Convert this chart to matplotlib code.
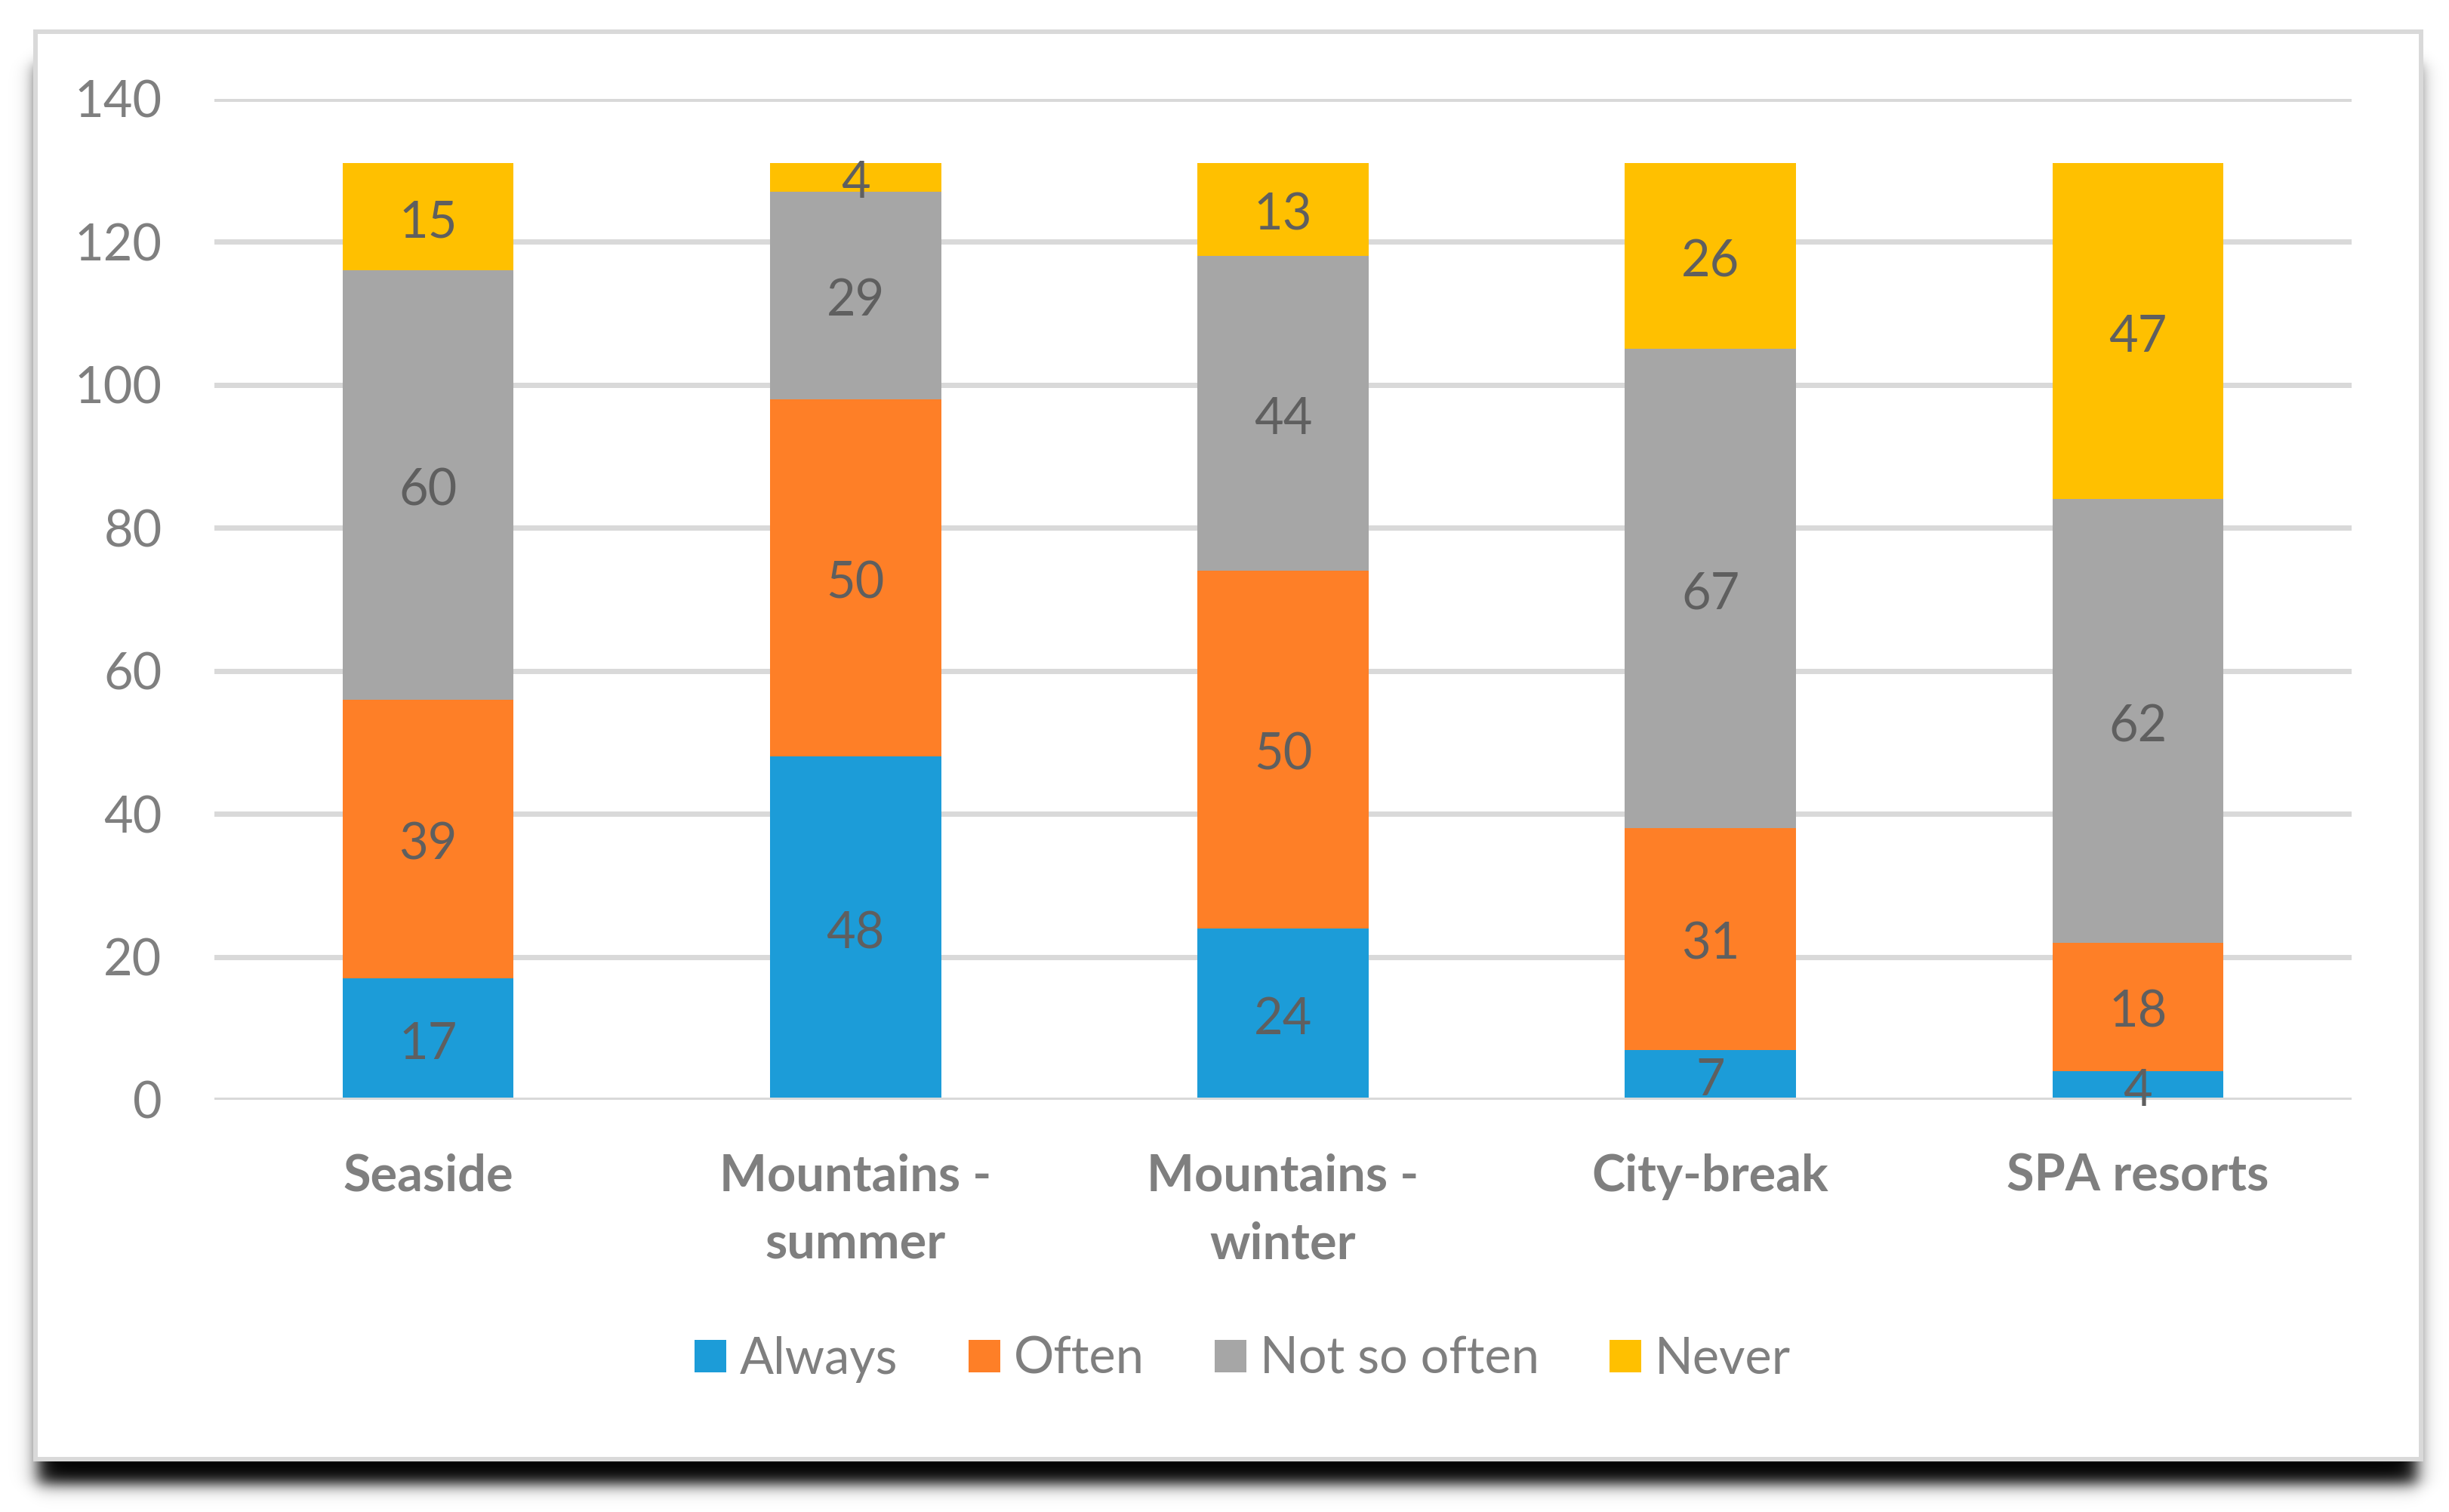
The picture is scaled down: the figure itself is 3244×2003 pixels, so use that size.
import numpy as np
import matplotlib
matplotlib.use('Agg')
import matplotlib.pyplot as plt
from matplotlib.patches import Rectangle

# ---------------- data ----------------
categories = ["Seaside", "Mountains -\nsummer", "Mountains -\nwinter", "City-break", "SPA resorts"]
series_names = ["Always", "Often", "Not so often", "Never"]
always = [17, 48, 24, 7, 4]
often = [39, 50, 50, 31, 18]
not_so_often = [60, 29, 44, 67, 62]
never = [15, 4, 13, 26, 47]
y_ticks = [0, 20, 40, 60, 80, 100, 120, 140]
colors = ["#1C9CD8", "#FE7F27", "#A6A6A6", "#FFC000"]

# ---------------- layout ----------------
W, H = 3244, 2003
DPI = 200
PX = 72.0 / DPI  # points per pixel

plt.rcParams['font.family'] = ['Lato', 'DejaVu Sans']
fig = plt.figure(figsize=(W / DPI, H / DPI), dpi=DPI)
fig.patch.set_facecolor('white')

# background axes in pixel coordinates (y downward) for shadow + frame
bg = fig.add_axes([0, 0, 1, 1], zorder=0)
bg.set_xlim(0, W)
bg.set_ylim(H, 0)
bg.axis('off')

xs = np.arange(W) + 0.5
ys = np.arange(H) + 0.5


def ramp(v, a, b, s):
    return 1.0 / (1.0 + np.exp(-(v - a) / s)) * 1.0 / (1.0 + np.exp((v - b) / s))


sx = ramp(xs, 50, 3202, 7)
sy = ramp(ys, 85, 1966, 6)
rgba = np.zeros((H, W, 4))
rgba[..., 3] = np.outer(sy, sx)
bg.imshow(rgba, extent=(0, W, H, 0), interpolation='bilinear', aspect='auto', zorder=0)

frame = Rectangle((46.5, 42), 3206.5 - 46.5, 1932.5 - 42, facecolor='white',
                  edgecolor='#D9D9D9', linewidth=6 * PX, zorder=1)
bg.add_patch(frame)

# main axes
left, right, top, base = 284, 3115, 131, 1457
ax = fig.add_axes([left / W, (H - base) / H, (right - left) / W, (base - top) / H], zorder=2)
ax.set_facecolor('none')

x = np.arange(len(categories))
series = [always, often, not_so_often, never]
bottom = np.zeros(len(categories))
handles = []
label_fs = 24
for name, vals, col in zip(series_names, series, colors):
    vals = np.array(vals, dtype=float)
    b = ax.bar(x, vals, 0.4, bottom=bottom, color=col, label=name, zorder=2, linewidth=0)
    handles.append(b)
    for xi, v, bo in zip(x, vals, bottom):
        ax.annotate(f"{int(v)}", (xi, bo + v / 2), xytext=(0, -27 * PX),
                    textcoords='offset points', ha='center', va='baseline',
                    fontsize=label_fs, color='#5F5F5F', zorder=4)
    bottom = bottom + vals

ax.set_xlim(-0.5, len(categories) - 0.5)
ax.set_ylim(0, 140)
ax.set_yticks(y_ticks)
ax.set_yticklabels([str(t) for t in y_ticks], fontsize=label_fs, color='#7F7F7F')
ax.set_xticks(x)
ax.set_xticklabels(categories, fontsize=label_fs, fontweight='bold', color='#7F7F7F',
                   linespacing=1.55)
ax.tick_params(axis='y', length=0, pad=25)
ax.tick_params(axis='x', length=0, pad=25.5)
for s in ax.spines.values():
    s.set_visible(False)
ax.set_axisbelow(True)
ax.yaxis.grid(True, color='#D9D9D9', linewidth=7 * PX)
ax.axhline(0, color='#D9D9D9', linewidth=7 * PX, zorder=3)

leg = fig.legend(handles=handles, labels=series_names, loc='center',
                 bbox_to_anchor=(1646 / W, 1 - 1801 / H), ncol=4, frameon=False,
                 fontsize=label_fs, handlelength=0.63, handleheight=0.63,
                 handletextpad=0.27, columnspacing=1.40, labelcolor='#7F7F7F')
leg.set_zorder(5)

fig.savefig('out.png', dpi=DPI, facecolor='white')
